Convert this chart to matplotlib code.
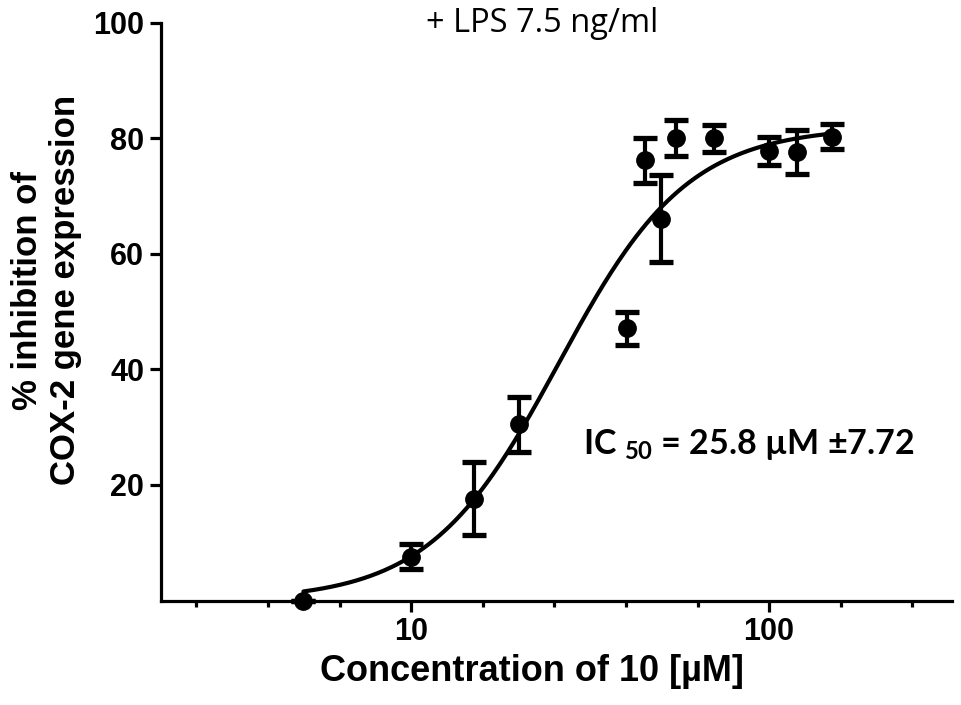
"""Dose-response plot: inhibition of COX-2 gene expression by compound 10."""

import numpy as np
import matplotlib
matplotlib.use("Agg")
import matplotlib.pyplot as plt
from matplotlib.ticker import FixedLocator, NullFormatter


# output size
WIDTH = 961
HEIGHT = 705
DPI = 100

# measured points (concentration in uM, mean % inhibition, SD)
concentration = [5, 10, 15, 20, 40, 45, 50, 55, 70, 100, 120, 150]
inhibition = [0.0, 7.6, 17.6, 30.5, 47.1, 76.2, 66.1, 80.0, 80.0, 77.8, 77.7, 80.3]
inhibition_sd = [0.0, 2.1, 6.3, 4.8, 2.8, 3.9, 7.5, 3.1, 2.3, 2.5, 3.8, 2.1]

# parameters of the fitted sigmoid curve
FIT_BOTTOM = 0.0
FIT_TOP = 82.0
FIT_IC50 = 25.8
FIT_HILL = 2.4
FIT_RANGE = (5, 150)

y_ticks = [20, 40, 60, 80, 100]
x_major_ticks = [10, 100]

TITLE = "+ LPS 7.5 ng/ml"
X_LABEL = "Concentration of 10 [\u00b5M]"
Y_LABEL = "% inhibition of\nCOX-2 gene expression"
IC50_TEXT = "IC $_{\\mathregular{50}}$ = 25.8 \u00b5M \u00b17.72"

AXIS_FONT = "Liberation Sans"
TEXT_FONT = "Lato"
TITLE_FONT = "Open Sans"


def fitted_curve():
    """Return x, y of the four parameter logistic fit."""
    x = np.logspace(np.log10(FIT_RANGE[0]), np.log10(FIT_RANGE[1]), 300)
    y = FIT_BOTTOM + (FIT_TOP - FIT_BOTTOM) / (1 + (FIT_IC50 / x) ** FIT_HILL)
    return x, y


def setup_axes(ax):
    """Log x axis with evenly spaced minor ticks, bold tick labels."""
    ax.set_xscale("log")
    ax.set_xlim(2, 10 ** 2.51)
    ax.set_ylim(0, 100)

    ax.spines["top"].set_visible(False)
    ax.spines["right"].set_visible(False)
    for side in ("left", "bottom"):
        ax.spines[side].set_linewidth(2.3)

    ax.xaxis.set_major_locator(FixedLocator(x_major_ticks))
    ax.set_xticklabels([str(t) for t in x_major_ticks])
    # minor ticks every fifth of a decade (as in the original Prism plot)
    minor = [10 ** (k / 5) for k in range(2, 13) if k % 5 != 0]
    ax.xaxis.set_minor_locator(FixedLocator(minor))
    ax.xaxis.set_minor_formatter(NullFormatter())

    ax.set_yticks(y_ticks)
    ax.tick_params(axis="both", which="major", direction="out", length=8,
                   width=2.3, labelsize=22, pad=4)
    ax.tick_params(axis="x", which="minor", direction="out", length=4.5,
                   width=2.3)
    for label in ax.get_xticklabels() + ax.get_yticklabels():
        label.set_fontweight("bold")
        label.set_fontfamily(AXIS_FONT)


def draw_graph():
    fig = plt.figure(figsize=(WIDTH / DPI, HEIGHT / DPI), dpi=DPI)
    ax = fig.add_axes([0.1675, 0.1482, 0.8228, 0.8196])

    setup_axes(ax)

    curve_x, curve_y = fitted_curve()
    ax.plot(curve_x, curve_y, color="black", lw=3.0, solid_capstyle="round")

    ax.errorbar(concentration, inhibition, yerr=inhibition_sd, fmt="o",
                color="black", markersize=12.5, elinewidth=3.0, capsize=8.5,
                capthick=3.8, clip_on=False, zorder=3)

    ax.set_xlabel(X_LABEL, fontsize=26, fontweight="bold",
                  fontfamily=AXIS_FONT)
    ax.xaxis.set_label_coords(0.469, -0.093)
    ax.set_ylabel(Y_LABEL, fontsize=25, fontweight="bold",
                  fontfamily=AXIS_FONT, linespacing=1.2)
    ax.yaxis.set_label_coords(-0.1, 0.537)

    fig.text(542 / WIDTH, 1 - 24 / HEIGHT, TITLE, ha="center", va="center",
             fontsize=23.5, fontfamily=TITLE_FONT)
    fig.text(583 / WIDTH, 1 - 444 / HEIGHT, IC50_TEXT, ha="left", va="center",
             fontsize=24.5, fontweight="bold", fontfamily=TEXT_FONT)

    fig.savefig("out.png", dpi=DPI)
    plt.close(fig)


def main():
    plt.rcParams["mathtext.fontset"] = "custom"
    plt.rcParams["mathtext.rm"] = TEXT_FONT + ":bold"
    plt.rcParams["mathtext.it"] = TEXT_FONT + ":bold"
    plt.rcParams["mathtext.bf"] = TEXT_FONT + ":bold"
    draw_graph()


if __name__ == "__main__":
    main()
